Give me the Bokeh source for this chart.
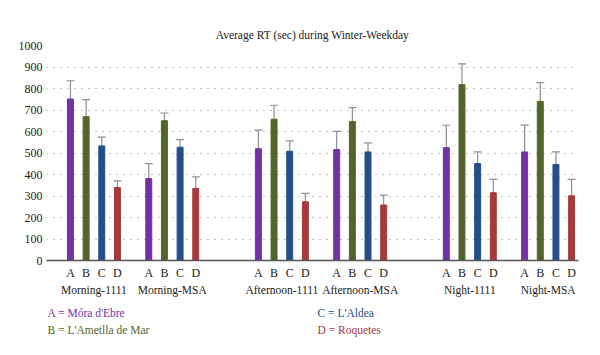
from bokeh.plotting import figure
from bokeh.models import (ColumnDataSource, Whisker, TeeHead, FixedTicker, LinearAxis, Range1d)
from bokeh.layouts import column
from bokeh.core.properties import value
from bokeh.embed import file_html
from bokeh.resources import INLINE

groups = ["Morning-1111", "Morning-MSA", "Afternoon-1111", "Afternoon-MSA", "Night-1111", "Night-MSA"]
group_starts = [0, 5, 12, 17, 24, 29]
series = ["A", "B", "C", "D"]
series_names = ["A = Móra d'Ebre", "B = L'Ametlla de Mar", "C = L'Aldea", "D = Roquetes"]
colors = ["#7232A3", "#53652B", "#234E8A", "#A5393B"]

A_vals = [751, 381, 520, 516, 525, 505]
A_err = [85, 70, 86, 85, 104, 125]
B_vals = [669, 650, 657, 646, 818, 740]
B_err = [79, 36, 65, 65, 97, 87]
C_vals = [533, 527, 508, 505, 451, 446]
C_err = [41, 35, 48, 42, 54, 59]
D_vals = [340, 335, 273, 258, 315, 301]
D_err = [30, 54, 39, 46, 62, 76]

y_ticks = [0, 100, 200, 300, 400, 500, 600, 700, 800, 900, 1000]

FONT = "Liberation Serif"
W = 596

p = figure(width=W, height=302, output_backend="svg", toolbar_location=None,
           x_range=Range1d(-1.53, 32.44), y_range=Range1d(0, 1000),
           min_border_left=46, min_border_right=18, min_border_top=45, min_border_bottom=42)
p.outline_line_color = None
p.background_fill_color = "white"
p.border_fill_color = "white"

p.title.text = "Average RT (sec) during Winter-Weekday"
p.title.align = "center"
p.title.text_font = FONT
p.title.text_font_size = "11.5px"
p.title.text_font_style = "normal"
p.title.text_color = "#222222"
p.title.standoff = 9

all_vals = [A_vals, B_vals, C_vals, D_vals]
all_errs = [A_err, B_err, C_err, D_err]
tick_pos = []
tick_labels = {}
for si, (vals, errs) in enumerate(zip(all_vals, all_errs)):
    xs = [g + si for g in group_starts]
    src = ColumnDataSource(dict(x=xs, top=vals,
                                upper=[v + e for v, e in zip(vals, errs)],
                                lower=[v - e for v, e in zip(vals, errs)]))
    p.vbar(x="x", top="top", bottom=0, width=0.38, color=colors[si], source=src)
    w = Whisker(base="x", upper="upper", lower="lower", source=src,
                line_color="#8f8f8f", line_width=1.2,
                upper_head=TeeHead(size=8, line_color="#8f8f8f", line_width=1.2),
                lower_head=TeeHead(size=8, line_color="#8f8f8f", line_width=1.0, line_alpha=0.6))
    p.add_layout(w)
    for x in xs:
        tick_pos.append(x)
        tick_labels[x] = series[si]

tick_pos.sort()
p.xaxis.ticker = FixedTicker(ticks=tick_pos)
p.xaxis.major_label_overrides = tick_labels
p.xaxis.axis_line_color = "#555555"
p.xaxis.axis_line_width = 1.3
p.xaxis.major_tick_line_color = None
p.xaxis.major_tick_out = 0
p.xaxis.major_tick_in = 0
p.xaxis.minor_tick_line_color = None
p.xaxis.major_label_text_font = FONT
p.xaxis.major_label_text_font_size = "12px"
p.xaxis.major_label_text_color = "#222222"
p.xaxis.major_label_standoff = 5

group_centers = [g + 1.5 for g in group_starts]
gaxis = LinearAxis(ticker=FixedTicker(ticks=group_centers),
                   major_label_overrides={c: n for c, n in zip(group_centers, groups)})
gaxis.axis_line_color = None
gaxis.major_tick_line_color = None
gaxis.major_tick_out = 0
gaxis.major_tick_in = 0
gaxis.minor_tick_line_color = None
gaxis.major_label_text_font = FONT
gaxis.major_label_text_font_size = "11.5px"
gaxis.major_label_text_color = "#222222"
gaxis.major_label_standoff = 1
p.add_layout(gaxis, "below")

p.yaxis.ticker = FixedTicker(ticks=y_ticks)
p.yaxis.axis_line_color = None
p.yaxis.major_tick_line_color = None
p.yaxis.major_tick_out = 0
p.yaxis.major_tick_in = 0
p.yaxis.minor_tick_line_color = None
p.yaxis.major_label_text_font = FONT
p.yaxis.major_label_text_font_size = "12px"
p.yaxis.major_label_text_color = "#222222"
p.yaxis.major_label_standoff = 4

p.xgrid.grid_line_color = None
p.ygrid.ticker = FixedTicker(ticks=y_ticks[1:])
p.ygrid.grid_line_color = "#8a8a8a"
p.ygrid.grid_line_dash = "1 6"
p.ygrid.grid_line_width = 1.2

# legend panel: its frame is aligned with the main frame (page x 46..578), y downward
leg = figure(width=W, height=44, output_backend="svg", toolbar_location=None,
             x_range=Range1d(46, 578), y_range=Range1d(44, 0),
             min_border_left=46, min_border_right=18, min_border_top=0, min_border_bottom=0)
leg.axis.visible = False
leg.grid.visible = False
leg.outline_line_color = None
leg_src = ColumnDataSource(dict(x=[47, 47, 317, 317], y=[10, 27, 10, 27],
                                text=series_names, color=colors))
leg.text(x="x", y="y", text="text", text_color="color", source=leg_src,
         text_font=value(FONT), text_font_size="11.5px", text_baseline="middle")

layout = column(p, leg, spacing=0)
open("out.html", "w").write(file_html(layout, INLINE))
